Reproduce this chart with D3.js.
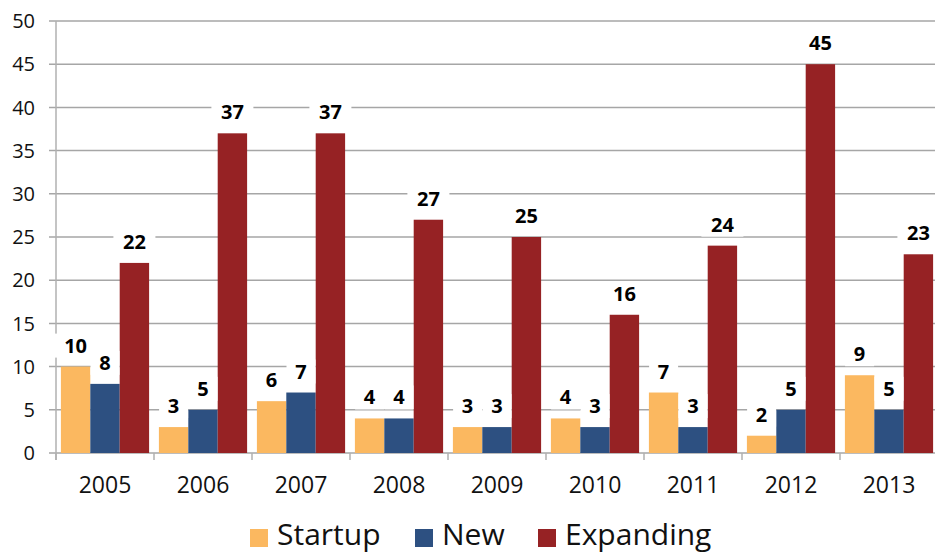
<!DOCTYPE html>
<html lang="en">
<head>
<meta charset="utf-8">
<script src="https://d3js.org/d3.v7.min.js"></script>
<style>
  body { margin: 0; background: #fff; }
  text { font-family: "Open Sans", "Noto Sans", sans-serif; }
</style>
</head>
<body>
<script type="text/javascript">
  var w = 935;
  var h = 552;

  var years = ["2005", "2006", "2007", "2008", "2009", "2010", "2011", "2012", "2013"];
  var startup = [10, 3, 6, 4, 3, 4, 7, 2, 9];
  var newBiz = [8, 5, 7, 4, 3, 3, 3, 5, 5];
  var expanding = [22, 37, 37, 27, 25, 16, 24, 45, 23];
  var seriesNames = ["Startup", "New", "Expanding"];
  var colors = ["#FBB860", "#2D5081", "#962224"];
  var yTicks = [0, 5, 10, 15, 20, 25, 30, 35, 40, 45, 50];

  var series = [startup, newBiz, expanding];

  var svg = d3.select("body")
          .append("svg")
          .attr("width", w)
          .attr("height", h);

  var x = d3.scaleBand().domain(years).range([56, 938]).paddingInner(0.1).paddingOuter(0.05);
  var x1 = d3.scaleBand().domain(seriesNames).range([0, x.bandwidth()]);
  var y = d3.scaleLinear().domain([0, 50]).range([453, 21]);

  // grid lines + y ticks
  svg.append("g").selectAll("line")
    .data(yTicks)
    .join("line")
    .attr("x1", 49).attr("x2", w)
    .attr("y1", function(d){ return y(d); })
    .attr("y2", function(d){ return y(d); })
    .attr("stroke", "#a6a6a6")
    .attr("stroke-width", 1.5);

  svg.append("g").selectAll("text")
    .data(yTicks)
    .join("text")
    .attr("x", 35)
    .attr("y", function(d){ return y(d); })
    .attr("dy", "0.36em")
    .attr("text-anchor", "end")
    .attr("font-size", 20)
    .attr("fill", "#111")
    .text(function(d){ return d; });

  // y axis line
  svg.append("line")
    .attr("x1", 56).attr("x2", 56).attr("y1", y(50)).attr("y2", y(0) + 7)
    .attr("stroke", "#b0b0b0").attr("stroke-width", 1.5);

  // x axis tick marks between categories
  var step = x.step();
  svg.append("g").selectAll("line")
    .data(years)
    .join("line")
    .attr("x1", function(d){ return x(d) - step * 0.05; })
    .attr("x2", function(d){ return x(d) - step * 0.05; })
    .attr("y1", y(0)).attr("y2", y(0) + 7)
    .attr("stroke", "#b0b0b0").attr("stroke-width", 1.5);

  // bars
  var groups = svg.selectAll("g.year")
    .data(years)
    .join("g")
    .attr("class", "year")
    .attr("transform", function(d){ return `translate(${x(d)},0)`; });

  groups.each(function(yr, i) {
    var g = d3.select(this);
    var vals = seriesNames.map(function(s, k){ return {s: s, v: series[k][i], c: colors[k]}; });

    g.selectAll("rect.bar")
      .data(vals)
      .join("rect")
      .attr("class", "bar")
      .attr("x", function(d){ return x1(d.s); })
      .attr("width", x1.bandwidth())
      .attr("y", function(d){ return y(d.v); })
      .attr("height", function(d){ return y(0) - y(d.v); })
      .attr("fill", function(d){ return d.c; });

    // label backgrounds (break the grid lines like the original)
    g.selectAll("rect.lbl")
      .data(vals)
      .join("rect")
      .attr("class", "lbl")
      .attr("x", function(d){ return x1(d.s) + x1.bandwidth() / 2 - (String(d.v).length * 6.5 + 8); })
      .attr("width", function(d){ return String(d.v).length * 13 + 16; })
      .attr("y", function(d){ return y(d.v) - 33; })
      .attr("height", 24)
      .attr("fill", "#fff");

    g.selectAll("text.lbl")
      .data(vals)
      .join("text")
      .attr("class", "lbl")
      .attr("x", function(d){ return x1(d.s) + x1.bandwidth() / 2; })
      .attr("y", function(d){ return y(d.v) - 14; })
      .attr("text-anchor", "middle")
      .attr("font-size", 20)
      .attr("font-weight", "bold")
      .attr("fill", "#000")
      .text(function(d){ return d.v; });
  });

  // x labels
  svg.append("g").selectAll("text")
    .data(years)
    .join("text")
    .attr("x", function(d){ return x(d) + x.bandwidth() / 2; })
    .attr("y", 493)
    .attr("text-anchor", "middle")
    .attr("font-size", 23)
    .attr("fill", "#111")
    .text(function(d){ return d; });

  // legend
  var legendX = [250, 415, 538];
  var leg = svg.append("g").selectAll("g")
    .data(seriesNames)
    .join("g")
    .attr("transform", function(d, i){ return `translate(${legendX[i]},529)`; });

  leg.append("rect")
    .attr("width", 18).attr("height", 18)
    .attr("fill", function(d, i){ return colors[i]; });

  leg.append("text")
    .attr("x", 27)
    .attr("y", 16)
    .attr("font-size", 30)
    .attr("fill", "#111")
    .text(function(d){ return d; });
</script>
</body>
</html>
